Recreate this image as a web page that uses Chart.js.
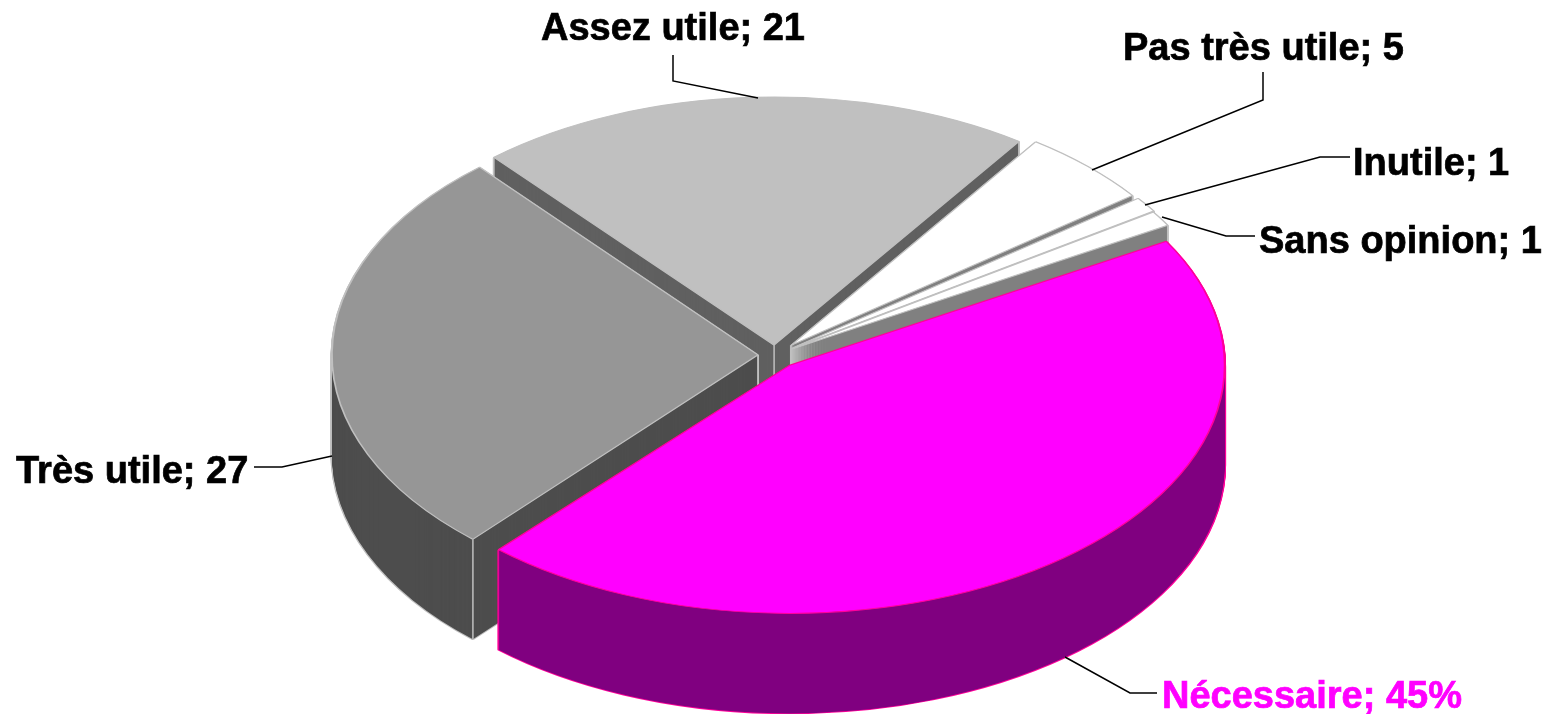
<!DOCTYPE html>
<html>
<head>
<meta charset="utf-8">
<title>Utilité</title>
<script src="https://cdn.jsdelivr.net/npm/chart.js@4"></script>
<style>
  html, body { margin: 0; padding: 0; background: #fff; overflow: hidden; }
  canvas { display: block; }
</style>
</head>
<body>
<canvas id="pie" width="1545" height="714"></canvas>
<script>
const categories = ["Nécessaire", "Très utile", "Assez utile", "Pas très utile", "Inutile", "Sans opinion"];
const values = [45, 27, 21, 5, 1, 1];
const valueUnits = ["%", "", "", "", "", ""];

const topColors = ["#ff00ff", "#969696", "#c0c0c0", "#ffffff", "#ffffff", "#ffffff"];
const sideColors = ["#800080", "#4d4d4d", "#606060", "#808080", "#808080", "#808080"];
const edgeColors = ["#ff0099", "#c0c0c0", "#c0c0c0", "#c0c0c0", "#c0c0c0", "#c0c0c0"];
const labelColors = ["#ff00ff", "#000000", "#000000", "#000000", "#000000", "#000000"];

// how far each slice is pulled out, and its horizontal stretch
const explode = [16, 12, 12, 16, 14, 13];
const stretchX = [1.45, 1.42, 1.43, 1.43, 1.45, 1.45];

// painter's order, back slices first
const drawOrder = [2, 3, 4, 5, 1, 0];

// label anchor [x, baseline] and leader line, in page pixels
const labelAnchors = [[1162, 708], [16, 483], [541, 40], [1123, 60], [1353, 175], [1259, 253]];
const leaders = [
  [[1157, 693], [1130, 693], [1065, 657]],
  [[254, 467], [282, 467], [332, 456]],
  [[673, 55], [673, 81], [758, 98]],
  [[1263, 72], [1263, 100], [1092, 170]],
  [[1350, 157], [1320, 157], [1145, 205]],
  [[1255, 236], [1226, 236], [1162, 217]]
];

// tilt of the pie: circle of the controller -> flat ellipse on the page
const SCALE_Y = 0.827, PAGE_X = 775, PAGE_Y = 355, DEPTH = 100;

function apex(el, i) {
  const mid = (el.startAngle + el.endAngle) / 2;
  return [PAGE_X + Math.cos(mid) * explode[i] * stretchX[i], PAGE_Y + Math.sin(mid) * explode[i] * SCALE_Y];
}

function tilt(ctx, el, i) {
  const a = apex(el, i);
  ctx.translate(a[0], a[1]);
  ctx.scale(stretchX[i], SCALE_Y);
  ctx.translate(-el.x, -el.y);
}

function drawArcAs(ctx, el, bg, border, width) {
  const saved = el.options;
  el.options = Object.assign({}, saved, { backgroundColor: bg, borderColor: border, borderWidth: width });
  el.draw(ctx);
  el.options = saved;
}

function drawWall(ctx, el, i, border, width) {
  for (let d = DEPTH; d >= 1; d--) {
    ctx.save();
    ctx.translate(0, d);
    tilt(ctx, el, i);
    drawArcAs(ctx, el, sideColors[i], border, width);
    ctx.restore();
  }
}

// vertical edges at the tip, and at a rim corner when its cut face looks at the viewer
function drawCorners(ctx, el, i) {
  const a = apex(el, i);
  const r = el.outerRadius;
  const pts = [a];
  if (Math.sin(el.startAngle - Math.PI / 2) > 0) {
    pts.push([a[0] + Math.cos(el.startAngle) * r * stretchX[i], a[1] + Math.sin(el.startAngle) * r * SCALE_Y]);
  }
  if (Math.sin(el.endAngle + Math.PI / 2) > 0) {
    pts.push([a[0] + Math.cos(el.endAngle) * r * stretchX[i], a[1] + Math.sin(el.endAngle) * r * SCALE_Y]);
  }
  ctx.strokeStyle = edgeColors[i];
  ctx.lineWidth = 1.5;
  pts.forEach(p => {
    ctx.beginPath();
    ctx.moveTo(p[0], p[1]);
    ctx.lineTo(p[0], p[1] + DEPTH);
    ctx.stroke();
  });
}

const pie3d = {
  id: "pie3d",
  beforeDatasetDraw(chart) {
    const ctx = chart.ctx;
    const arcs = chart.getDatasetMeta(0).data;
    drawOrder.forEach(i => {
      const el = arcs[i];
      drawWall(ctx, el, i, edgeColors[i], 2);  // leaves only the outline
      drawWall(ctx, el, i, edgeColors[i], 0);
      drawCorners(ctx, el, i);
      ctx.save();
      tilt(ctx, el, i);
      el.draw(ctx);
      ctx.restore();
    });
    return false;
  },
  afterDraw(chart) {
    const ctx = chart.ctx;
    ctx.save();
    ctx.font = "bold 38px 'Liberation Sans', Arial, sans-serif";
    ctx.textBaseline = "alphabetic";
    categories.forEach((name, i) => {
      ctx.strokeStyle = "#000";
      ctx.lineWidth = 1.5;
      ctx.beginPath();
      leaders[i].forEach((p, k) => k ? ctx.lineTo(p[0], p[1]) : ctx.moveTo(p[0], p[1]));
      ctx.stroke();
      const text = name + "; " + values[i] + valueUnits[i];
      ctx.fillStyle = labelColors[i];
      ctx.strokeStyle = labelColors[i];
      ctx.lineWidth = 0.7;
      ctx.fillText(text, labelAnchors[i][0], labelAnchors[i][1]);
      ctx.strokeText(text, labelAnchors[i][0], labelAnchors[i][1]);
    });
    ctx.restore();
  }
};

new Chart(document.getElementById("pie"), {
  type: "pie",
  data: {
    labels: categories,
    datasets: [{
      data: values,
      backgroundColor: topColors,
      borderColor: edgeColors,
      borderWidth: 1.2
    }]
  },
  options: {
    responsive: false,
    animation: false,
    radius: 300,
    rotation: 60,
    plugins: { legend: { display: false }, tooltip: { enabled: false } }
  },
  plugins: [pie3d]
});
</script>
</body>
</html>
